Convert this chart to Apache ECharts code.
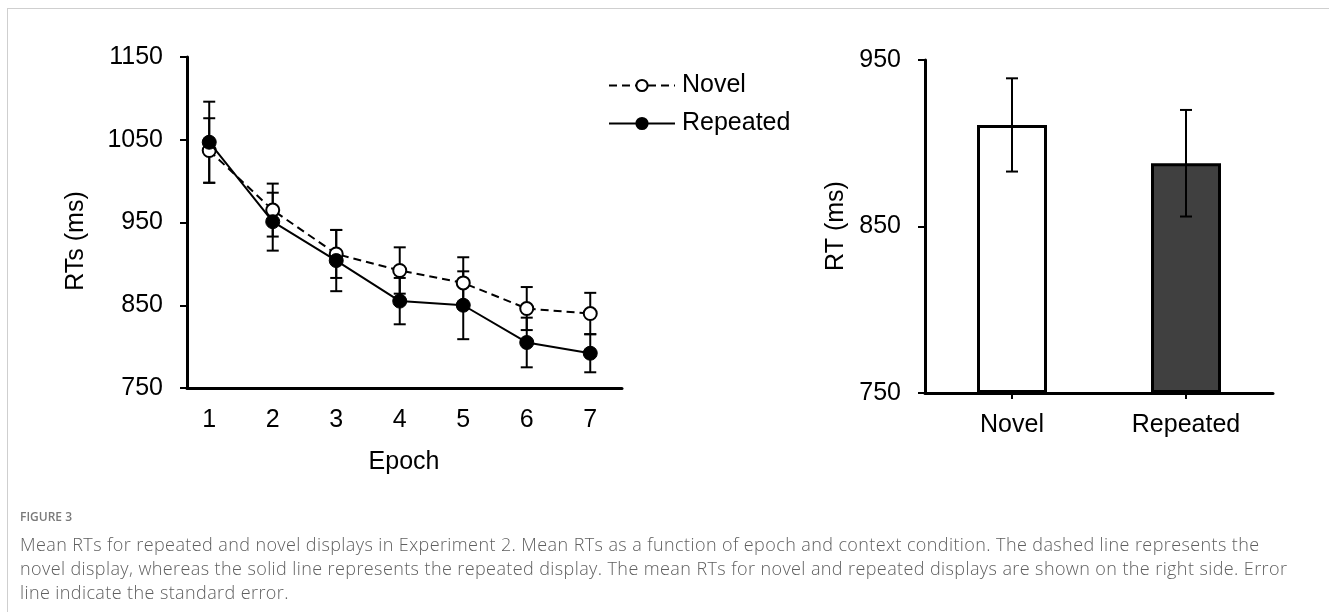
<!DOCTYPE html>
<html>
<head>
<meta charset="utf-8">
<script src="https://cdn.jsdelivr.net/npm/echarts@6.0.0/dist/echarts.min.js"></script>
<style>
  html, body { margin: 0; padding: 0; background: #fff; }
  #frame { position: absolute; left: 7px; top: 8px; width: 1322px; height: 604px;
           border-left: 1px solid #cfcfcf; border-top: 1px solid #cfcfcf; }
  #chart { position: absolute; left: 0; top: 0; width: 1329px; height: 612px; }
  .cap { position: absolute; left: 20px; font-family: 'Open Sans', sans-serif; color: #5f5f5f; white-space: nowrap; }
  #figlabel { top: 508px; font-size: 12px; font-weight: 600; color: #7a7a7a; }
  .line { font-size: 18px; font-weight: 300; line-height: 24px; letter-spacing: 0.4px; }
</style>
</head>
<body>
<div id="frame"></div>
<div id="chart"></div>
<div class="cap" id="figlabel">FIGURE 3</div>
<div class="cap line" style="top:532px">Mean RTs for repeated and novel displays in Experiment 2. Mean RTs as a function of epoch and context condition. The dashed line represents the</div>
<div class="cap line" style="top:556px">novel display, whereas the solid line represents the repeated display. The mean RTs for novel and repeated displays are shown on the right side. Error</div>
<div class="cap line" style="top:580px">line indicate the standard error.</div>
<script>
// left panel: RT by epoch
const epochs = [1, 2, 3, 4, 5, 6, 7];
const novelRT = [1037, 965, 912, 892, 877, 846, 840];
const novelSE = [39, 32, 29, 28, 31, 26, 25];
const repeatedRT = [1047, 951, 904, 855, 850, 805, 792];
const repeatedSE = [49, 35, 37, 28, 41, 30, 23];

// right panel: overall means
const conditions = ['Novel', 'Repeated'];
const meanRT = [911, 888];
const meanSE = [28, 32];
const barColors = ['#ffffff', '#404040'];

const font = 'Liberation Sans, Arial, sans-serif';
const chart = echarts.init(document.getElementById('chart'));

function errorBars(xs, means, errs, axisIdx, capHalf) {
  return {
    type: 'custom',
    xAxisIndex: axisIdx,
    yAxisIndex: axisIdx,
    z: 1,
    silent: true,
    encode: { x: 0, y: [1, 2] },
    data: xs.map((x, i) => [x, means[i] - errs[i], means[i] + errs[i]]),
    renderItem: (params, api) => {
      const lo = api.coord([api.value(0), api.value(1)]);
      const hi = api.coord([api.value(0), api.value(2)]);
      const st = { stroke: '#000', lineWidth: 2 };
      return {
        type: 'group',
        children: [
          { type: 'line', shape: { x1: lo[0], y1: lo[1], x2: hi[0], y2: hi[1] }, style: st },
          { type: 'line', shape: { x1: lo[0] - capHalf, y1: lo[1], x2: lo[0] + capHalf, y2: lo[1] }, style: st },
          { type: 'line', shape: { x1: hi[0] - capHalf, y1: hi[1], x2: hi[0] + capHalf, y2: hi[1] }, style: st }
        ]
      };
    }
  };
}

const axisLine = { show: true, lineStyle: { color: '#000', width: 3 } };
const labelStyle = { color: '#000', fontSize: 25, fontFamily: font };
const plain = v => String(v);

chart.setOption({
  animation: false,
  textStyle: { fontFamily: font },
  grid: [
    { left: 187, top: 57, width: 435, height: 331 },
    { left: 925, top: 60, width: 348, height: 333 }
  ],
  legend: {
    data: ['Novel', 'Repeated'],
    orient: 'vertical',
    left: 603,
    top: 68,
    itemWidth: 66,
    itemHeight: 14,
    itemGap: 13,
    textStyle: { color: '#000', fontSize: 25, fontFamily: font, padding: [0, 0, 0, 2] }
  },
  xAxis: [
    {
      type: 'value', gridIndex: 0, min: 0.65, max: 7.5,
      axisLine: axisLine, axisTick: { show: false }, splitLine: { show: false },
      axisLabel: Object.assign({ customValues: epochs, margin: 20 }, labelStyle)
    },
    {
      type: 'category', gridIndex: 1, data: conditions,
      axisLine: axisLine,
      axisTick: { show: true, alignWithLabel: true, length: 6, lineStyle: { color: '#000', width: 2 } },
      axisLabel: Object.assign({ margin: 20 }, labelStyle)
    }
  ],
  yAxis: [
    {
      type: 'value', gridIndex: 0, min: 750, max: 1150, interval: 100,
      axisLine: axisLine, splitLine: { show: false },
      axisTick: { show: true, length: 7, lineStyle: { color: '#000', width: 2 } },
      axisLabel: Object.assign({ margin: 24, formatter: plain }, labelStyle)
    },
    {
      type: 'value', gridIndex: 1, min: 750, max: 950, interval: 100, startValue: 750,
      axisLine: axisLine, splitLine: { show: false },
      axisTick: { show: true, length: 7, lineStyle: { color: '#000', width: 2 } },
      axisLabel: Object.assign({ margin: 24, formatter: plain }, labelStyle)
    }
  ],
  graphic: [
    { type: 'text', x: 76, y: 241, rotation: Math.PI / 2,
      style: { text: 'RTs (ms)', font: '25px ' + font, fill: '#000', align: 'center', verticalAlign: 'middle' } },
    { type: 'text', x: 404, y: 462,
      style: { text: 'Epoch', font: '25px ' + font, fill: '#000', align: 'center', verticalAlign: 'middle' } },
    { type: 'text', x: 836, y: 226, rotation: Math.PI / 2,
      style: { text: 'RT (ms)', font: '25px ' + font, fill: '#000', align: 'center', verticalAlign: 'middle' } }
  ],
  series: [
    errorBars(epochs, novelRT, novelSE, 0, 6),
    errorBars(epochs, repeatedRT, repeatedSE, 0, 6),
    {
      name: 'Novel', type: 'line', xAxisIndex: 0, yAxisIndex: 0, z: 3,
      data: epochs.map((e, i) => [e, novelRT[i]]),
      symbol: 'circle', symbolSize: 13,
      lineStyle: { color: '#000', width: 2, type: [8, 5] },
      itemStyle: { color: '#fff', borderColor: '#000', borderWidth: 2 }
    },
    {
      name: 'Repeated', type: 'line', xAxisIndex: 0, yAxisIndex: 0, z: 4,
      data: epochs.map((e, i) => [e, repeatedRT[i]]),
      symbol: 'circle', symbolSize: 14,
      lineStyle: { color: '#000', width: 2 },
      itemStyle: { color: '#000', borderColor: '#000', borderWidth: 1 }
    },
    {
      type: 'bar', xAxisIndex: 1, yAxisIndex: 1, barWidth: 70, z: 2,
      data: meanRT.map((v, i) => ({ value: v, itemStyle: { color: barColors[i] } })),
      itemStyle: { borderColor: '#000', borderWidth: 3 }
    },
    Object.assign(errorBars([0, 1], meanRT, meanSE, 1, 6), { z: 5 })
  ]
});
</script>
</body>
</html>
